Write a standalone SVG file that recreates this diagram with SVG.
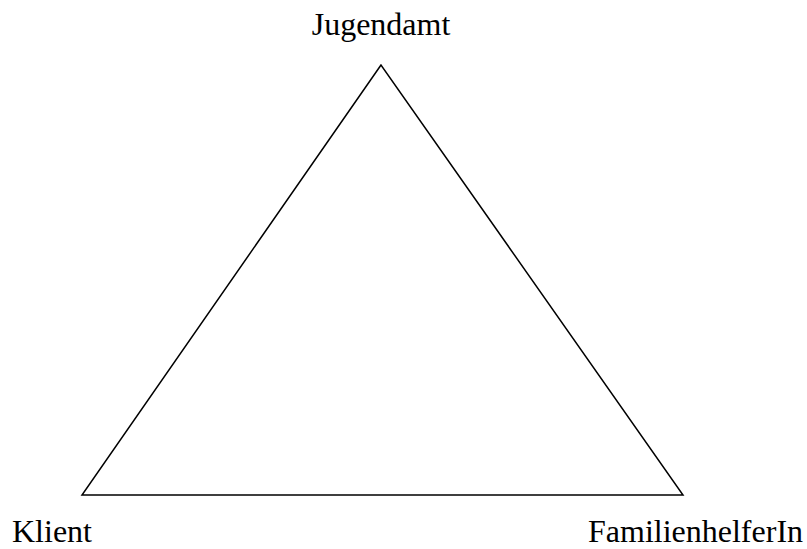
<svg xmlns="http://www.w3.org/2000/svg" width="807" height="549" viewBox="0 0 807 549">
<style>
.lbl{font-family:"Liberation Serif","Times New Roman",serif;font-size:32px;fill:#000}
.edge{fill:none;stroke:#000;stroke-width:1.5}
</style>
<rect width="807" height="549" fill="#fff"/>
<g id="connectors">
<polygon class="edge" points="381,65 82,495 683,495"/>
</g>
<g id="jugendamt"><text class="lbl" x="381" y="35" text-anchor="middle">Jugendamt</text></g>
<g id="klient"><text class="lbl" x="12" y="542">Klient</text></g>
<g id="familienhelferin"><text class="lbl" x="588" y="542">FamilienhelferIn</text></g>
</svg>
